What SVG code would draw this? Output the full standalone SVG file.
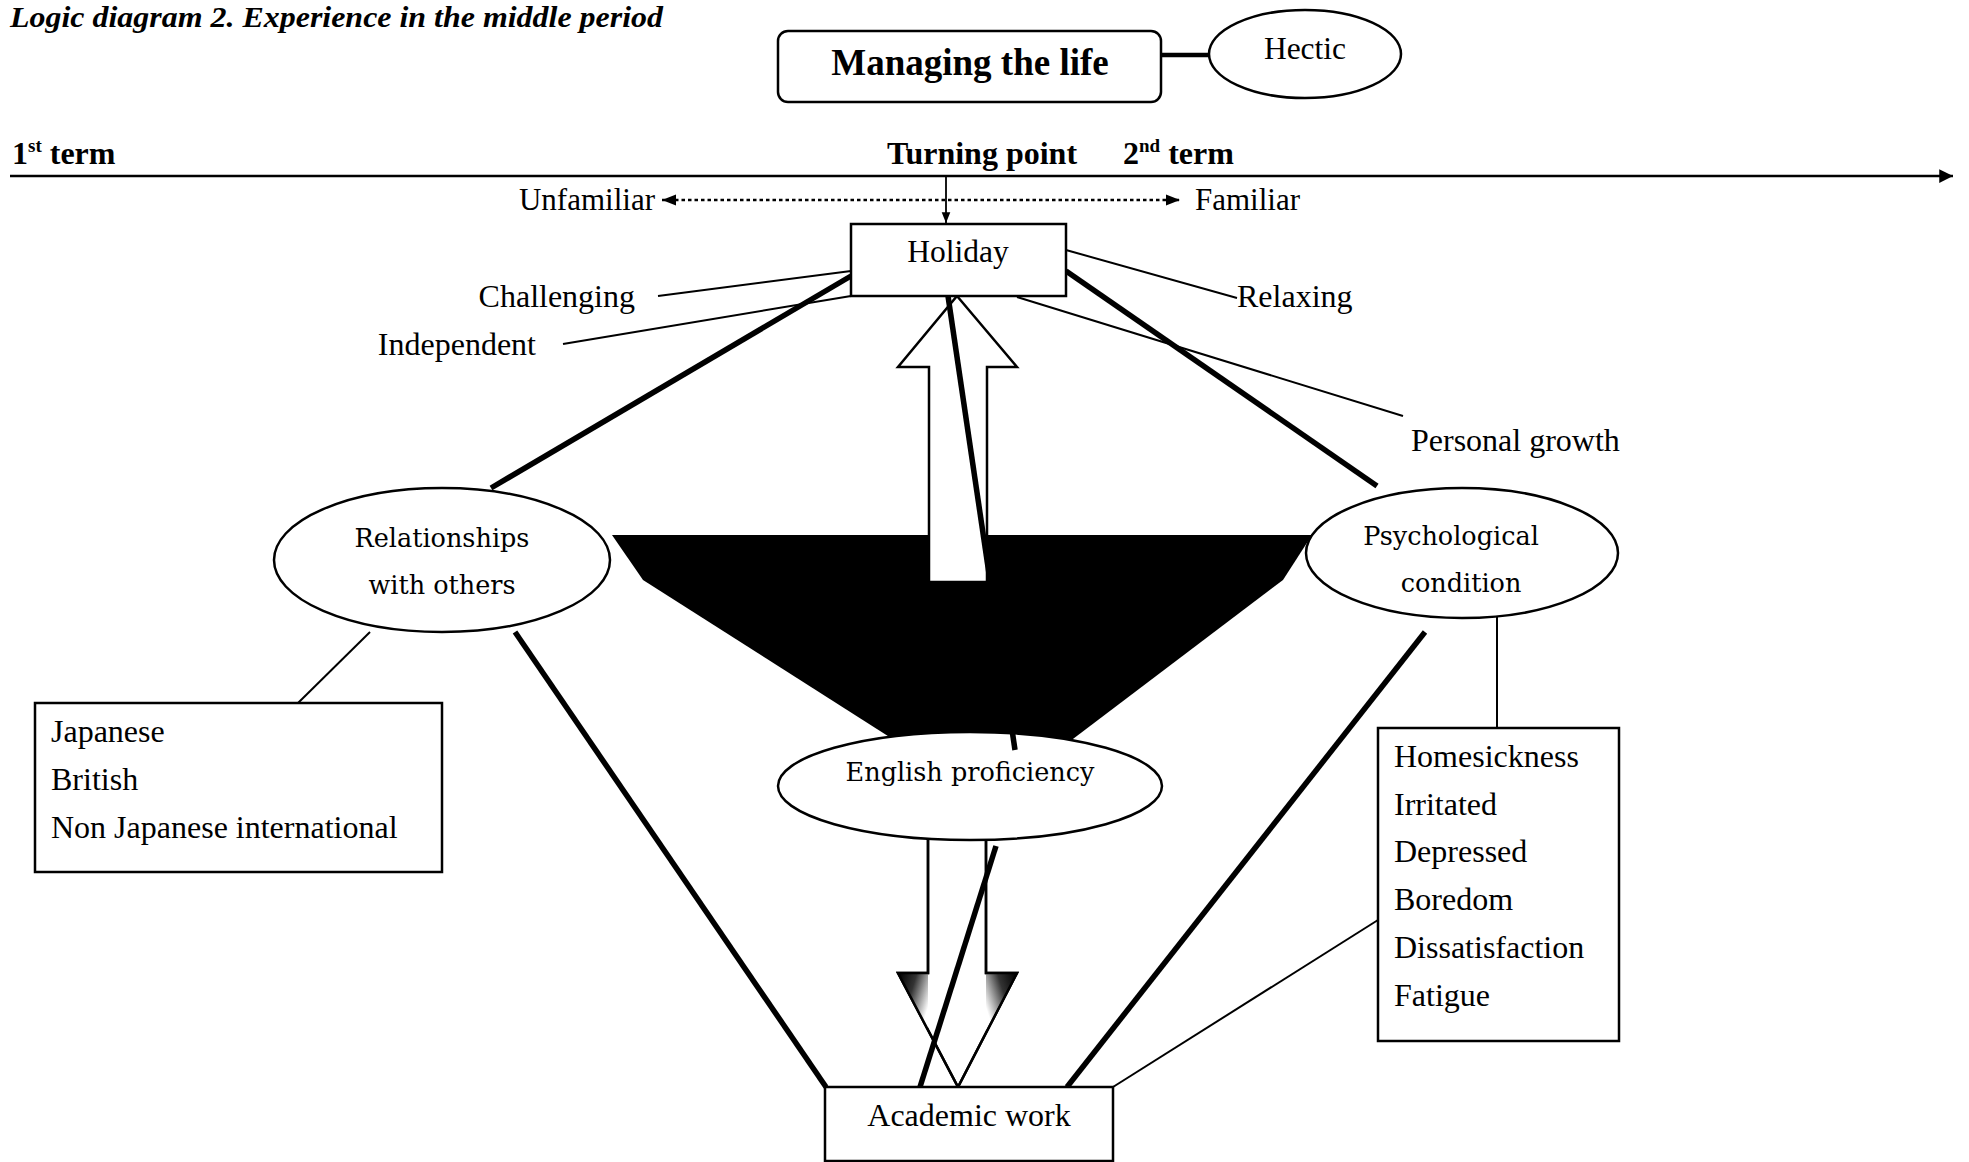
<svg xmlns="http://www.w3.org/2000/svg" width="1969" height="1162" viewBox="0 0 1969 1162">
<style>
  .t { font-family: "Liberation Serif", "Times New Roman", serif; fill: #000; }
  .c { font-family: "DejaVu Serif", "Liberation Serif", serif; fill: #000; font-size: 25.5px; text-anchor: middle; }
  .b { font-weight: bold; }
  .node { fill: #fff; stroke: #000; stroke-width: 2.5; }
  .thin { stroke: #000; stroke-width: 2; fill: none; }
  .thick { stroke: #000; stroke-width: 5.5; fill: none; }
</style>
<defs>
  <marker id="ah" viewBox="0 0 10 10" refX="10" refY="5" markerWidth="5.5" markerHeight="5.5" markerUnits="strokeWidth" orient="auto-start-reverse">
    <path d="M0,0 L10,5 L0,10 z" fill="#000"/>
  </marker>
  <marker id="ahs" viewBox="0 0 10 10" refX="10" refY="5" markerWidth="6" markerHeight="6" markerUnits="strokeWidth" orient="auto-start-reverse">
    <path d="M0,1 L10,5 L0,9 z" fill="#000"/>
  </marker>
  <linearGradient id="wl" x1="0" y1="0" x2="1" y2="0.6">
    <stop offset="0" stop-color="#000"/>
    <stop offset="0.45" stop-color="#333"/>
    <stop offset="1" stop-color="#fff"/>
  </linearGradient>
  <linearGradient id="wr" x1="1" y1="0" x2="0" y2="0.6">
    <stop offset="0" stop-color="#000"/>
    <stop offset="0.45" stop-color="#333"/>
    <stop offset="1" stop-color="#fff"/>
  </linearGradient>
</defs>

<text class="t b" x="10" y="27" font-size="30" font-style="italic" textLength="653" lengthAdjust="spacingAndGlyphs">Logic diagram 2. Experience in the middle period</text>

<g id="connectors">
  <!-- Managing -> Hectic -->
  <line x1="1161" y1="55" x2="1209" y2="55" stroke="#000" stroke-width="4.5"/>
  <!-- timeline -->
  <line x1="10" y1="176" x2="1953" y2="176" stroke="#000" stroke-width="2.5" marker-end="url(#ah)"/>
  <!-- turning point arrow -->
  <line x1="946" y1="176" x2="946" y2="223" stroke="#000" stroke-width="1.8" marker-end="url(#ahs)"/>
  <!-- unfamiliar/familiar -->
  <line x1="662" y1="200" x2="1180" y2="200" stroke="#000" stroke-width="2.4" stroke-dasharray="3.5,3" marker-start="url(#ahs)" marker-end="url(#ahs)"/>
  <!-- thin label lines -->
  <line class="thin" x1="658" y1="296" x2="851" y2="271"/>
  <line class="thin" x1="563" y1="344" x2="851" y2="296"/>
  <line class="thin" x1="1066" y1="250" x2="1237" y2="298"/>
  <line class="thin" x1="1017" y1="297" x2="1403" y2="416"/>
  <line class="thin" x1="370" y1="632" x2="298" y2="703"/>
  <line class="thin" x1="1497" y1="606" x2="1497" y2="728"/>
  <line class="thin" x1="1113" y1="1087" x2="1378" y2="920"/>
  <!-- thick relations -->
  <line class="thick" x1="851" y1="276" x2="491" y2="488"/>
  <line class="thick" x1="1066" y1="271" x2="1377" y2="486"/>
  <line class="thick" x1="515" y1="632" x2="826" y2="1087"/>
  <line class="thick" x1="1425" y1="632" x2="1067" y2="1087"/>
</g>

<g id="funnel">
  <polygon points="612,535 1312,535 1283,580 1065,745 902,745 643,580" fill="#000"/>
</g>

<g id="up-arrow">
  <polygon points="957,296 1017,367 987,367 987,582 929,582 929,367 898,367" fill="#fff" stroke="#000" stroke-width="2.5" stroke-linejoin="miter"/>
</g>

<g id="down-arrow">
  <polygon points="928,838 986,838 986,973 1017,973 958,1087 898,973 928,973" fill="#fff" stroke="#000" stroke-width="2.5"/>
  <polygon points="899,974 928,974 928,1030" fill="url(#wl)"/>
  <polygon points="1016,974 986,974 986,1030" fill="url(#wr)"/>
  <polygon points="928,838 986,838 986,973 1017,973 958,1087 898,973 928,973" fill="none" stroke="#000" stroke-width="2.5"/>
</g>

<g id="managing">
  <rect class="node" x="778" y="31" width="383" height="71" rx="10"/>
  <text class="t b" x="970" y="75" font-size="37" text-anchor="middle">Managing the life</text>
</g>

<g id="hectic">
  <ellipse class="node" cx="1305" cy="54" rx="96" ry="44"/>
  <text class="t" x="1305" y="59" font-size="31.5" text-anchor="middle">Hectic</text>
</g>

<g id="timeline-labels">
  <text class="t b" x="12" y="164" font-size="32">1<tspan font-size="19" dy="-12">st</tspan><tspan dy="12"> term</tspan></text>
  <text class="t b" x="887" y="164" font-size="32">Turning point</text>
  <text class="t b" x="1123" y="164" font-size="32">2<tspan font-size="19" dy="-12">nd</tspan><tspan dy="12"> term</tspan></text>
  <text class="t" x="655" y="210" font-size="31" text-anchor="end">Unfamiliar</text>
  <text class="t" x="1195" y="210" font-size="31">Familiar</text>
</g>

<g id="holiday">
  <rect class="node" x="851" y="224" width="215" height="72"/>
  <text class="t" x="958" y="262" font-size="31.5" text-anchor="middle">Holiday</text>
</g>

<g id="labels">
  <text class="t" x="635" y="307" font-size="32" text-anchor="end">Challenging</text>
  <text class="t" x="536" y="355" font-size="32" text-anchor="end">Independent</text>
  <text class="t" x="1237" y="307" font-size="32">Relaxing</text>
  <text class="t" x="1411" y="451" font-size="32">Personal growth</text>
</g>

<g id="relationships">
  <ellipse class="node" cx="442" cy="560" rx="168" ry="72"/>
  <text class="c" x="442" y="547">Relationships</text>
  <text class="c" x="442" y="594">with others</text>
</g>

<g id="psychological">
  <ellipse class="node" cx="1462" cy="553" rx="156" ry="65"/>
  <text class="c" x="1451" y="545">Psychological</text>
  <text class="c" x="1461" y="592">condition</text>
</g>

<g id="english">
  <ellipse class="node" cx="970" cy="786" rx="192" ry="54"/>
  <text class="c" x="970" y="781">English proficiency</text>
</g>

<g id="connectors-over">
  <line class="thick" x1="948" y1="296" x2="1015" y2="750"/>
  <line class="thick" x1="996" y1="846" x2="920" y2="1087"/>
</g>

<g id="relations-box">
  <rect class="node" x="35" y="703" width="407" height="169"/>
  <text class="t" x="51" y="742" font-size="32">Japanese</text>
  <text class="t" x="51" y="790" font-size="32">British</text>
  <text class="t" x="51" y="838" font-size="32">Non Japanese international</text>
</g>

<g id="condition-box">
  <rect class="node" x="1378" y="728" width="241" height="313"/>
  <text class="t" x="1394" y="767" font-size="32">Homesickness</text>
  <text class="t" x="1394" y="815" font-size="32">Irritated</text>
  <text class="t" x="1394" y="862" font-size="32">Depressed</text>
  <text class="t" x="1394" y="910" font-size="32">Boredom</text>
  <text class="t" x="1394" y="958" font-size="32">Dissatisfaction</text>
  <text class="t" x="1394" y="1006" font-size="32">Fatigue</text>
</g>

<g id="academic">
  <rect class="node" x="825" y="1087" width="288" height="74"/>
  <text class="t" x="969" y="1126" font-size="32" text-anchor="middle">Academic work</text>
</g>
</svg>
